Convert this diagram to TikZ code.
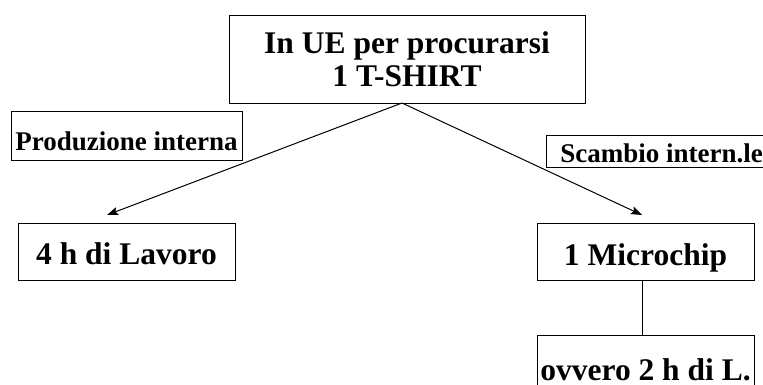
\documentclass[tikz,border=0pt]{standalone}
\usepackage{fontspec}
\setmainfont{Liberation Serif}
\usetikzlibrary{arrows.meta}
\begin{document}
\begin{tikzpicture}[x=1pt,y=-1pt,
  box/.style={draw=black,line width=0.9pt,rectangle,inner sep=0pt,align=center,
    font=\fontsize{31.5}{33}\selectfont\bfseries,text depth=0pt},
  lbl/.style={draw=black,line width=0.9pt,rectangle,inner sep=0pt,text depth=0pt,
    font=\fontsize{27}{30}\selectfont\bfseries},
  conn/.style={line width=1pt,-{Stealth[length=11pt,width=8pt,inset=2pt]}}]
\useasboundingbox (0,0) rectangle (763,385);
\clip (0,0) rectangle (763,385);
\node[box,minimum width=356pt,minimum height=88pt,text height=56pt] (top) at (407,59) {In UE per procurarsi\\1 T-SHIRT};
\node[lbl,minimum width=231pt,minimum height=49pt,text height=29pt] (prod) at (126.5,135.5) {Produzione interna};
\node[lbl,anchor=west,inner xsep=14pt,minimum height=32pt,text height=24pt] (scam) at (546,151) {Scambio intern.le};
\node[box,minimum width=217pt,minimum height=57pt,text height=25pt] (lav) at (126.5,251.5) {4 h di Lavoro};
\node[box,minimum width=217pt,minimum height=57pt,text height=27pt] (chip) at (645.5,251.5) {1 Microchip};
\node[box,minimum width=217pt,minimum height=52pt,text height=38pt] (ov) at (645.5,361) {ovvero 2 h di L.};
\coordinate (s) at (402,103);
\coordinate (el) at (107,215);
\coordinate (er) at (642,215);
\draw[conn] (s) -- (el);
\draw[conn] (s) -- (er);
\draw[line width=0.9pt] ([xshift=-3.5pt]chip.south) -- ([xshift=-3.5pt]ov.north);
\end{tikzpicture}
\end{document}
